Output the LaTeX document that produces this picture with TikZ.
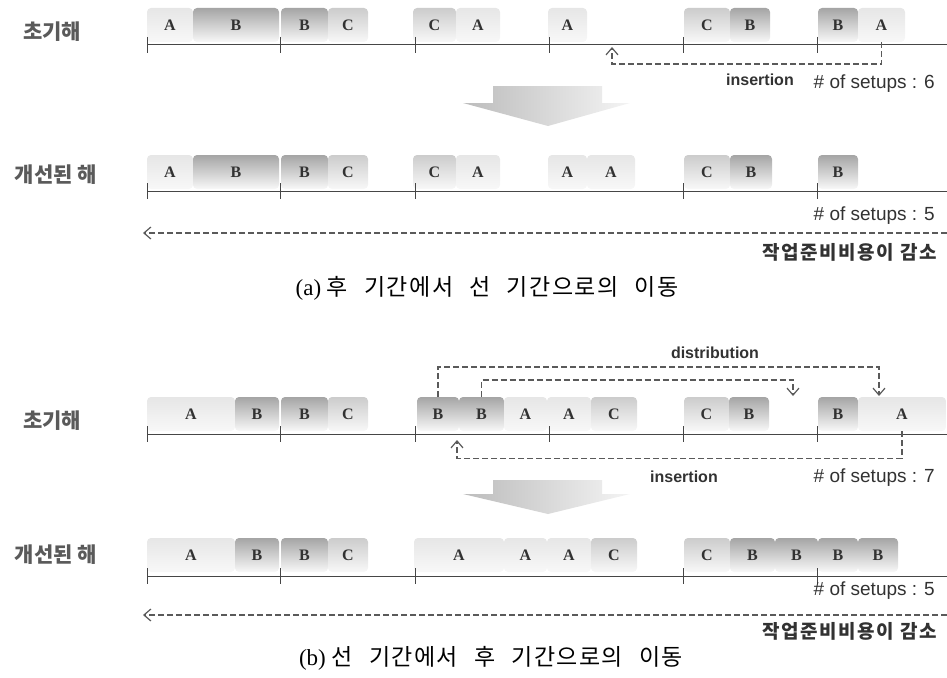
\documentclass[tikz,border=0pt]{standalone}
\usepackage{fontspec}
\setmainfont{Liberation Serif}
\newfontfamily\kofont{Noto Sans CJK KR}
\newfontfamily\kowide{Noto Sans CJK KR}[LetterSpace=8]
\newfontfamily\kocap{Noto Sans CJK KR}[LetterSpace=6,WordSpace=2.5]
\newfontfamily\lsfont{Liberation Sans}
\definecolor{blkdark}{RGB}{165,165,165}
\definecolor{blkmid}{RGB}{204,204,204}
\definecolor{blklight}{RGB}{230,230,230}
\definecolor{blkfade}{RGB}{248,248,248}
\definecolor{txtgray}{RGB}{50,50,50}
\definecolor{lblgray}{RGB}{90,90,90}
\definecolor{axisgray}{RGB}{70,70,70}
\definecolor{dashgray}{RGB}{90,90,90}
\definecolor{arrowdk}{RGB}{188,188,188}
\definecolor{arrowlt}{RGB}{244,244,244}
\usetikzlibrary{arrows.meta}

\begin{document}
\begin{tikzpicture}[x=1pt,y=-1pt,
  blk/.style={rounded corners=4pt,inner sep=0pt,minimum height=34pt,
    font=\bfseries\fontsize{16}{16}\selectfont,text=txtgray},
  blkdk/.style={top color=blkdark,bottom color=blkfade},
  blkmd/.style={top color=blkmid,bottom color=blkfade},
  blklt/.style={top color=blklight,bottom color=blkfade},
  axis/.style={draw=axisgray,line width=1pt},
  dconn/.style={draw=dashgray,line width=1.4pt,dash pattern=on 6pt off 3pt,
    -{Straight Barb[length=7pt,width=12pt,line width=1.2pt]}},
  lbl/.style={font=\kofont\bfseries\fontsize{21}{21}\selectfont,text=lblgray},
  setup/.style={font=\lsfont\fontsize{19}{19}\selectfont,text=txtgray,anchor=east,inner sep=0pt},
  opname/.style={font=\lsfont\bfseries\fontsize{16}{16}\selectfont,text=txtgray,inner sep=0pt},
  saving/.style={font=\kowide\bfseries\fontsize{19}{19}\selectfont,text=txtgray,anchor=east,inner sep=0pt},
  captext/.style={font=\fontsize{23}{23}\selectfont,text=black,inner sep=0pt}]
  \useasboundingbox (0,0) rectangle (947,677);

  % (a) initial solution
  \node[lbl] (lblAi) at (52,32) {초기해};
  \foreach \n/\xa/\xb/\s/\t in {1/147/193/blklt/A, 2/193/279/blkdk/B, 3/281/328/blkdk/B, 4/328/368/blkmd/C,
      5/413/456/blkmd/C, 6/456/500/blklt/A, 7/548/587/blklt/A, 8/684/730/blkmd/C,
      9/730/770/blkdk/B, 10/818/858/blkdk/B, 11/858/905/blklt/A}
    \node[blk,\s,minimum width={(\xb-\xa)*1pt}] (ai\n) at ({(\xa+\xb)/2},25) {\t};
  \draw[axis] (147,45) -- (947,45);
  \foreach \x in {147,280,415,549,683,817} \draw[axis] (\x,37) -- (\x,53);
  \coordinate (insA) at (612,47);
  \draw[dconn] (ai11.south) -- ++(0,22) -| (insA);
  \node[opname] (insAlbl) at (760,80) {insertion};
  \node[setup] (suAi) at (935,84) {\# of setups : 6};

  % (a) improved solution
  \node[lbl] (lblAr) at (56,175) {개선된 해};
  \foreach \n/\xa/\xb/\s/\t in {1/147/193/blklt/A, 2/193/279/blkdk/B, 3/281/328/blkdk/B, 4/328/368/blkmd/C,
      5/413/456/blkmd/C, 6/456/500/blklt/A, 7/548/587/blklt/A, 8/587/635/blklt/A,
      9/684/730/blkmd/C, 10/730/772/blkdk/B, 11/818/858/blkdk/B}
    \node[blk,\s,minimum width={(\xb-\xa)*1pt}] (ar\n) at ({(\xa+\xb)/2},172) {\t};
  \draw[axis] (147,191) -- (947,191);
  \foreach \x in {147,280,415,683,817} \draw[axis] (\x,183) -- (\x,199);
  \node[setup] (suAr) at (935,216) {\# of setups : 5};
  \coordinate (redAr) at (947,233);
  \coordinate (redAl) at (143,233);
  \draw[dconn] (redAr) -- (redAl);
  \node[saving] (savA) at (937,252) {작업준비비용이 감소};
  \node[captext] (capA) at (487,288) {(a) {\kocap 후 기간에서 선 기간으로의 이동}};

  % (b) initial solution
  \node[lbl] (lblBi) at (52,421) {초기해};
  \foreach \n/\xa/\xb/\s/\t in {1/147/235/blklt/A, 2/235/279/blkdk/B, 3/281/328/blkdk/B, 4/328/368/blkmd/C,
      5/417/459/blkdk/B, 6/459/504/blkdk/B, 7/504/547/blklt/A, 8/547/591/blklt/A, 9/591/637/blkmd/C,
      10/684/729/blkmd/C, 11/729/769/blkdk/B, 12/818/858/blkdk/B, 13/858/946/blklt/A}
    \node[blk,\s,minimum width={(\xb-\xa)*1pt}] (bi\n) at ({(\xa+\xb)/2},414) {\t};
  \draw[axis] (147,434) -- (947,434);
  \foreach \x in {147,280,415,549,683,817} \draw[axis] (\x,426) -- (\x,442);
  \coordinate (distA) at (879,396);
  \coordinate (distB) at (793,396);
  \draw[dconn] (bi5.north) -- ++(0,-30) -| (distA);
  \draw[dconn] (bi6.north) -- ++(0,-17) -| (distB);
  \node[opname] (distlbl) at (715,353) {distribution};
  \coordinate (insB) at (457,440);
  \draw[dconn] (bi13.south) -- ++(0,27) -| (insB);
  \node[opname] (insBlbl) at (684,477) {insertion};
  \node[setup] (suBi) at (935,478) {\# of setups : 7};

  % (b) improved solution
  \node[lbl] (lblBr) at (56,555) {개선된 해};
  \foreach \n/\xa/\xb/\s/\t in {1/147/235/blklt/A, 2/235/279/blkdk/B, 3/281/328/blkdk/B, 4/328/368/blkmd/C,
      5/414/504/blklt/A, 6/504/547/blklt/A, 7/547/591/blklt/A, 8/591/637/blkmd/C,
      9/684/730/blkmd/C, 10/730/775/blkdk/B, 11/775/818/blkdk/B, 12/818/858/blkdk/B, 13/858/898/blkdk/B}
    \node[blk,\s,minimum width={(\xb-\xa)*1pt}] (br\n) at ({(\xa+\xb)/2},555) {\t};
  \draw[axis] (147,576) -- (947,576);
  \foreach \x in {147,280,415,683,817} \draw[axis] (\x,568) -- (\x,584);
  \node[setup] (suBr) at (935,591) {\# of setups : 5};
  \coordinate (redBr) at (947,615);
  \coordinate (redBl) at (143,615);
  \draw[dconn] (redBr) -- (redBl);
  \node[saving] (savB) at (937,631) {작업준비비용이 감소};
  \node[captext] (capB) at (491,658) {(b) {\kocap 선 기간에서 후 기간으로의 이동}};

  % big arrows between initial and improved
  \foreach \t/\w/\p in {86/103/126, 480/494/514}
    \shade[left color=arrowdk,right color=arrowlt]
      (493,\t) -- (602,\t) -- (602,\w) -- (630,\w) -- (548,\p) -- (463,\w) -- (493,\w) -- cycle;
\end{tikzpicture}
\end{document}
